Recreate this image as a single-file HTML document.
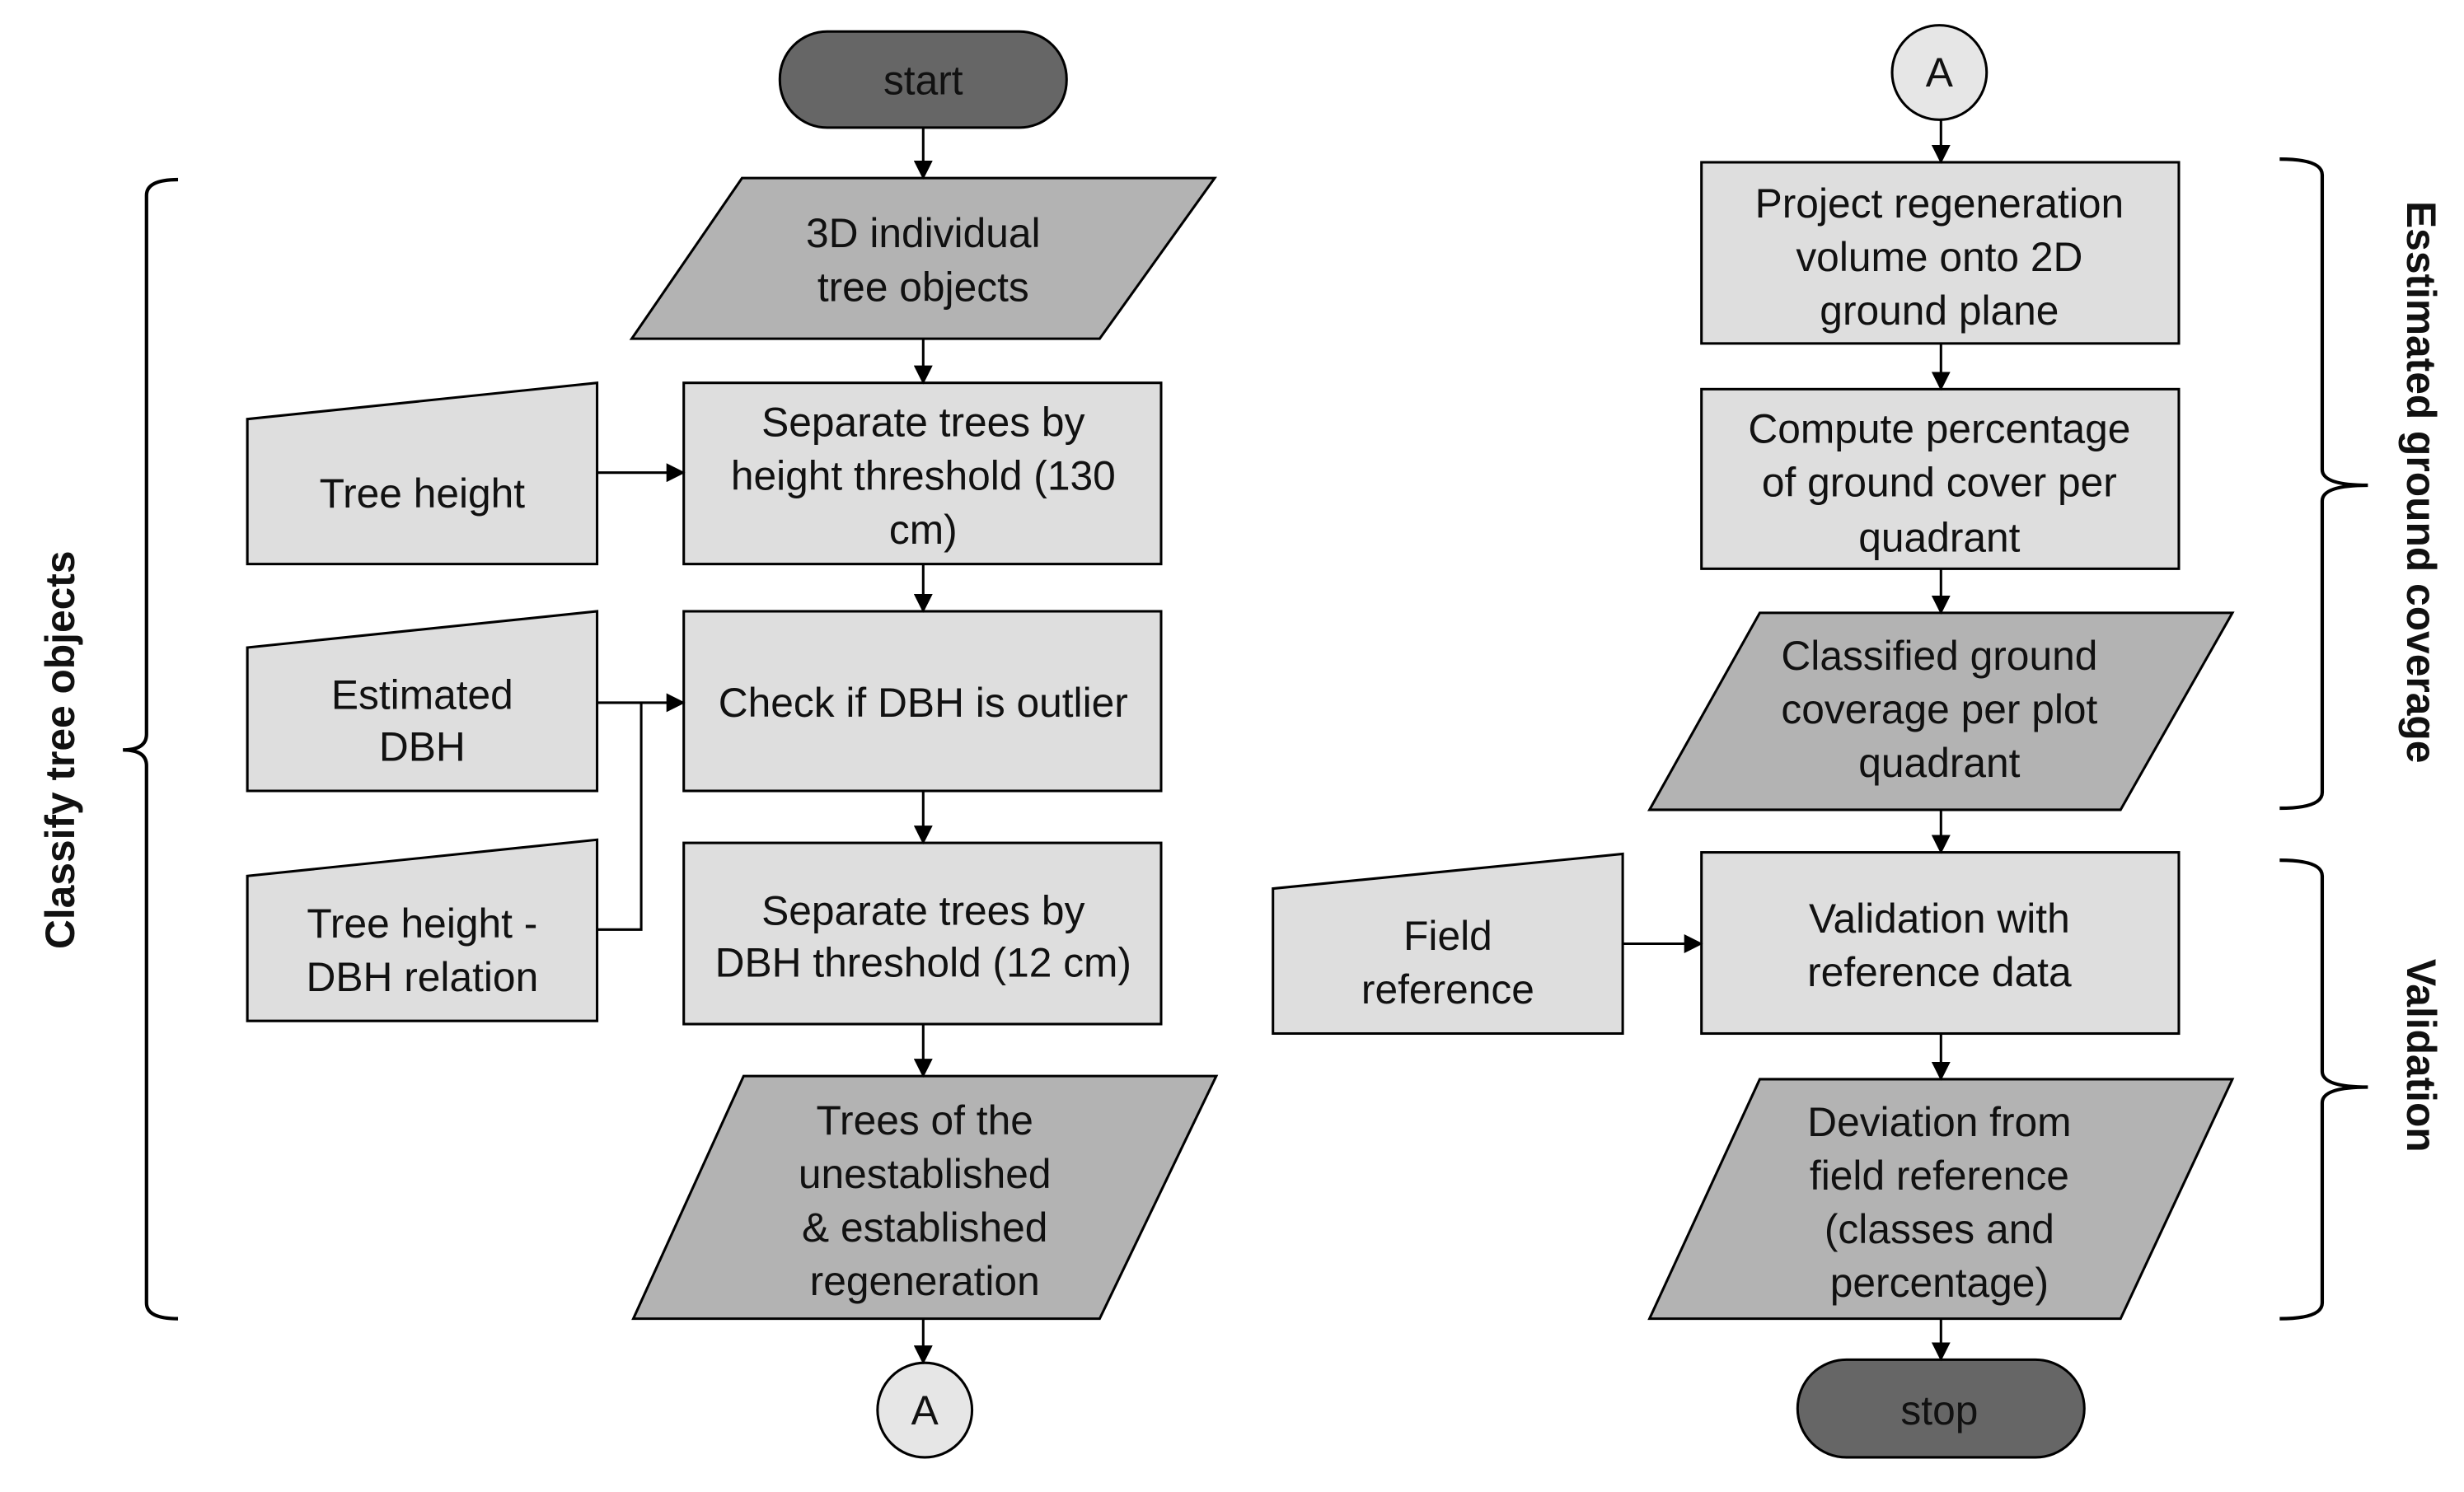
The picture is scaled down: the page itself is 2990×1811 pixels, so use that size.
<!DOCTYPE html>
<html><head><meta charset="utf-8"><style>html,body{margin:0;padding:0;background:#fff}svg{display:block}</style></head>
<body>
<svg width="2990" height="1811" viewBox="0 0 1564 947" preserveAspectRatio="none" xmlns="http://www.w3.org/2000/svg" font-family="Liberation Sans, sans-serif">
<defs><marker id="ah" markerWidth="12" markerHeight="12" refX="11" refY="6" orient="auto" markerUnits="userSpaceOnUse"><path d="M0,0 L12,6 L0,12 z" fill="#000"/></marker></defs>
<g stroke="#000" stroke-width="1.6">
<rect x="495" y="20" width="182" height="61" rx="30" fill="#666"/>
<polygon points="471,113 771,113 698,215 401,215" fill="#b3b3b3"/>
<rect x="434" y="243" width="303" height="115" fill="#dedede"/>
<polygon points="157,266 379,243 379,358 157,358" fill="#dedede"/>
<rect x="434" y="388" width="303" height="114" fill="#dedede"/>
<polygon points="157,411 379,388 379,502 157,502" fill="#dedede"/>
<rect x="434" y="535" width="303" height="115" fill="#dedede"/>
<polygon points="157,556 379,533 379,648 157,648" fill="#dedede"/>
<polygon points="472,683 772,683 698,837 402,837" fill="#b3b3b3"/>
<circle cx="587" cy="895" r="30" fill="#e6e6e6"/>
<circle cx="1231" cy="46" r="30" fill="#e6e6e6"/>
<rect x="1080" y="103" width="303" height="115" fill="#dedede"/>
<rect x="1080" y="247" width="303" height="114" fill="#dedede"/>
<polygon points="1117,389 1417,389 1346,514 1047,514" fill="#b3b3b3"/>
<rect x="1080" y="541" width="303" height="115" fill="#dedede"/>
<polygon points="808,564 1030,542 1030,656 808,656" fill="#dedede"/>
<polygon points="1117,685 1417,685 1346,837 1047,837" fill="#b3b3b3"/>
<rect x="1141" y="863" width="182" height="62" rx="31" fill="#666"/>
</g>
<g stroke="#000" stroke-width="1.6" fill="none" marker-end="url(#ah)">
<line x1="586" y1="81" x2="586" y2="113"/>
<line x1="586" y1="215" x2="586" y2="243"/>
<line x1="379" y1="300" x2="434" y2="300"/>
<line x1="586" y1="358" x2="586" y2="388"/>
<line x1="379" y1="446" x2="434" y2="446"/>
<line x1="586" y1="502" x2="586" y2="535"/>
<line x1="586" y1="650" x2="586" y2="683"/>
<line x1="586" y1="837" x2="586" y2="865"/>
<line x1="1232" y1="76" x2="1232" y2="103"/>
<line x1="1232" y1="218" x2="1232" y2="247"/>
<line x1="1232" y1="361" x2="1232" y2="389"/>
<line x1="1232" y1="514" x2="1232" y2="541"/>
<line x1="1030" y1="599" x2="1080" y2="599"/>
<line x1="1232" y1="656" x2="1232" y2="685"/>
<line x1="1232" y1="837" x2="1232" y2="863"/>
</g>
<g stroke="#000" stroke-width="1.6" fill="none">
<polyline points="407,446 407,590 379,590"/>
</g>
<g stroke="#000" stroke-width="2.2" fill="none">
<path d="M113,114 Q93,114 93,124 L93,466 Q93,476 78,476 Q93,476 93,486 L93,827 Q93,837 113,837"/>
<path d="M1447,101 Q1474,101 1474,111 L1474,298 Q1474,308 1503,308 Q1474,308 1474,318 L1474,503 Q1474,513 1447,513"/>
<path d="M1447,546 Q1474,546 1474,556 L1474,680 Q1474,690 1503,690 Q1474,690 1474,700 L1474,827 Q1474,837 1447,837"/>
</g>
<g font-size="26" text-anchor="middle" fill="#111">
<text x="586" y="60">start</text>
<text x="586" y="157">3D individual</text>
<text x="586" y="191">tree objects</text>
<text x="586" y="277">Separate trees by</text>
<text x="586" y="311">height threshold (130</text>
<text x="586" y="345">cm)</text>
<text x="268" y="322">Tree height</text>
<text x="586" y="455">Check if DBH is outlier</text>
<text x="268" y="450">Estimated</text>
<text x="268" y="483">DBH</text>
<text x="586" y="587">Separate trees by</text>
<text x="586" y="620">DBH threshold (12 cm)</text>
<text x="268" y="595">Tree height -</text>
<text x="268" y="629">DBH relation</text>
<text x="587" y="720">Trees of the</text>
<text x="587" y="754">unestablished</text>
<text x="587" y="788">&amp; established</text>
<text x="587" y="822">regeneration</text>
<text x="587" y="904">A</text>
<text x="1231" y="55">A</text>
<text x="1231" y="138">Project regeneration</text>
<text x="1231" y="172">volume onto 2D</text>
<text x="1231" y="206">ground plane</text>
<text x="1231" y="281">Compute percentage</text>
<text x="1231" y="315">of ground cover per</text>
<text x="1231" y="350">quadrant</text>
<text x="1231" y="425">Classified ground</text>
<text x="1231" y="459">coverage per plot</text>
<text x="1231" y="493">quadrant</text>
<text x="1231" y="592">Validation with</text>
<text x="1231" y="626">reference data</text>
<text x="919" y="603">Field</text>
<text x="919" y="637">reference</text>
<text x="1231" y="721">Deviation from</text>
<text x="1231" y="755">field reference</text>
<text x="1231" y="789">(classes and</text>
<text x="1231" y="823">percentage)</text>
<text x="1231" y="904">stop</text>
</g>
<g font-size="26" font-weight="bold" text-anchor="middle" fill="#111">
<text transform="translate(47,476) rotate(-90)">Classify tree objects</text>
<text transform="translate(1528,306) rotate(90)">Esstimated ground coverage</text>
<text transform="translate(1528,670) rotate(90)">Validation</text>
</g>
</svg>
</body></html>
